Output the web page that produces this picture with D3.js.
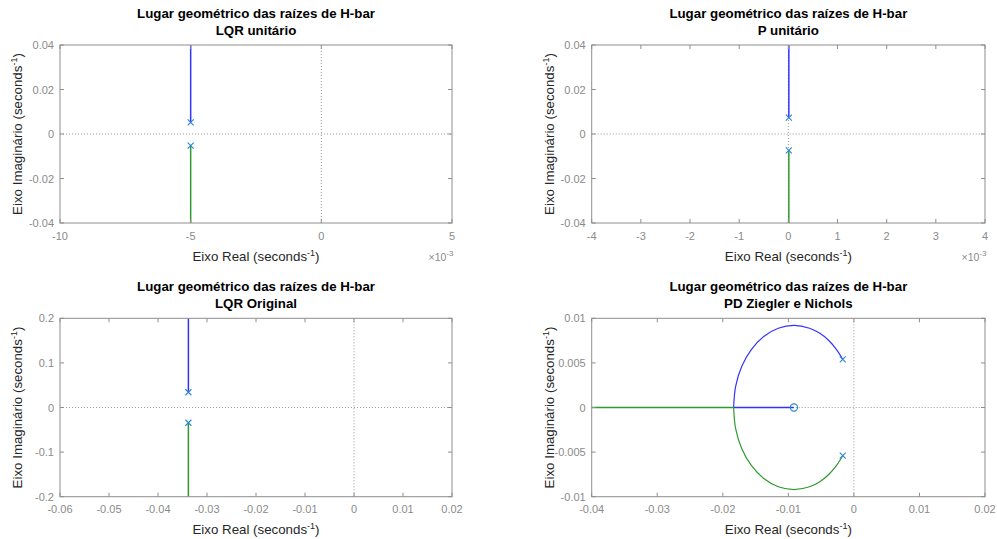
<!DOCTYPE html>
<html>
<head>
<meta charset="utf-8">
<script src="https://cdn.jsdelivr.net/npm/d3@7"></script>
<style>
  html, body { margin: 0; padding: 0; background: #fff; }
  svg { display: block; }
  text { font-family: "Liberation Sans", Arial, Helvetica, sans-serif; }
</style>
</head>
<body>
<svg id="chart" width="997" height="539"></svg>
<script>
// ---- Titles -------------------------------------------------------------
const mainTitle = "Lugar geométrico das raízes de H-bar";
const subTitles = ["LQR unitário", "P unitário", "LQR Original", "PD Ziegler e Nichols"];

// ---- Axis ranges and ticks ---------------------------------------------
const xDomains = [[-0.01, 0.005], [-0.004, 0.004], [-0.06, 0.02], [-0.04, 0.02]];
const yDomains = [[-0.04, 0.04], [-0.04, 0.04], [-0.2, 0.2], [-0.01, 0.01]];
const xTicks1 = [-0.01, -0.005, 0, 0.005];
const xTicks2 = [-0.004, -0.003, -0.002, -0.001, 0, 0.001, 0.002, 0.003, 0.004];
const xTicks3 = [-0.06, -0.05, -0.04, -0.03, -0.02, -0.01, 0, 0.01, 0.02];
const xTicks4 = [-0.04, -0.03, -0.02, -0.01, 0, 0.01, 0.02];
const yTicks1 = [-0.04, -0.02, 0, 0.02, 0.04];
const yTicks2 = [-0.04, -0.02, 0, 0.02, 0.04];
const yTicks3 = [-0.2, -0.1, 0, 0.1, 0.2];
const yTicks4 = [-0.01, -0.005, 0, 0.005, 0.01];
const xTickLabels1 = ["-10", "-5", "0", "5"];
const xTickLabels2 = ["-4", "-3", "-2", "-1", "0", "1", "2", "3", "4"];
const xTickLabels3 = ["-0.06", "-0.05", "-0.04", "-0.03", "-0.02", "-0.01", "0", "0.01", "0.02"];
const xTickLabels4 = ["-0.04", "-0.03", "-0.02", "-0.01", "0", "0.01", "0.02"];
const yTickLabels1 = ["-0.04", "-0.02", "0", "0.02", "0.04"];
const yTickLabels2 = ["-0.04", "-0.02", "0", "0.02", "0.04"];
const yTickLabels3 = ["-0.2", "-0.1", "0", "0.1", "0.2"];
const yTickLabels4 = ["-0.01", "-0.005", "0", "0.005", "0.01"];
const xExponent = ["-3", "-3", null, null];

// ---- Open-loop poles and zeros (real, imaginary) -----------------------
const poles1 = [[-0.005, 0.0052], [-0.005, -0.0052]];
const poles2 = [[0.00001, 0.0074], [0.00001, -0.0074]];
const poles3 = [[-0.0338, 0.0342], [-0.0338, -0.0342]];
const poles4 = [[-0.0017, 0.0054], [-0.0017, -0.0054]];
const zeros1 = [];
const zeros2 = [];
const zeros3 = [];
const zeros4 = [[-0.00915, 0]];

// ---- Locus branches (real, imaginary) -----------------------------------
const branchA1 = [[-0.005, 0.0052], [-0.005, 0.06]];
const branchB1 = [[-0.005, -0.0052], [-0.005, -0.06]];
const branchA2 = [[0.00001, 0.0074], [0.00001, 0.06]];
const branchB2 = [[0.00001, -0.0074], [0.00001, -0.06]];
const branchA3 = [[-0.0338, 0.0342], [-0.0338, 0.3]];
const branchB3 = [[-0.0338, -0.0342], [-0.0338, -0.3]];
// complex arcs, then the real-axis segment after the break-in point
const arcA4 = [
  [-0.00171, 0.00541], [-0.00265, 0.0065], [-0.00387, 0.00754], [-0.00526, 0.00834],
  [-0.00677, 0.00889], [-0.00915, 0.0092], [-0.01153, 0.00889], [-0.01375, 0.00797],
  [-0.01565, 0.0065], [-0.01712, 0.0046], [-0.01804, 0.00238], [-0.01835, 0]
];
const arcB4 = [
  [-0.00171, -0.00541], [-0.00265, -0.0065], [-0.00387, -0.00754], [-0.00526, -0.00834],
  [-0.00677, -0.00889], [-0.00915, -0.0092], [-0.01153, -0.00889], [-0.01375, -0.00797],
  [-0.01565, -0.0065], [-0.01712, -0.0046], [-0.01804, -0.00238], [-0.01835, 0]
];
const tailA4 = [[-0.01835, 0], [-0.00915, 0]];
const tailB4 = [[-0.01835, 0], [-0.05, 0]];

const panels = [
  { xTicks: xTicks1, yTicks: yTicks1, xLab: xTickLabels1, yLab: yTickLabels1, poles: poles1, zeros: zeros1, a: [branchA1], b: [branchB1] },
  { xTicks: xTicks2, yTicks: yTicks2, xLab: xTickLabels2, yLab: yTickLabels2, poles: poles2, zeros: zeros2, a: [branchA2], b: [branchB2] },
  { xTicks: xTicks3, yTicks: yTicks3, xLab: xTickLabels3, yLab: yTickLabels3, poles: poles3, zeros: zeros3, a: [branchA3], b: [branchB3] },
  { xTicks: xTicks4, yTicks: yTicks4, xLab: xTickLabels4, yLab: yTickLabels4, poles: poles4, zeros: zeros4, a: [arcA4, tailA4], b: [arcB4, tailB4] }
];

// ---- Layout -------------------------------------------------------------
const boxes = [
  { left: 60,    right: 452, top: 45,    bottom: 223 },
  { left: 591.7, right: 985, top: 45,    bottom: 223 },
  { left: 60,    right: 452, top: 318.3, bottom: 496.7 },
  { left: 591.7, right: 985, top: 318.3, bottom: 496.7 }
];

const colBox = "#8e8e8e";
const colTickText = "#8a8a8a";
const colLabel = "#262626";
const colBlue = "#3333ff";
const colGreen = "#2f9a2f";
const colMarker = "#2a86d6";

const svg = d3.select("#chart");

panels.forEach((p, i) => {
  const b = boxes[i];
  const x = d3.scaleLinear().domain(xDomains[i]).range([b.left, b.right]);
  const y = d3.scaleLinear().domain(yDomains[i]).range([b.bottom, b.top]);
  const g = svg.append("g");
  const w = b.right - b.left, h = b.bottom - b.top;

  const clipId = "clip" + i;
  svg.append("clipPath").attr("id", clipId)
    .append("rect").attr("x", b.left).attr("y", b.top).attr("width", w).attr("height", h);

  // dotted reference lines through the origin
  const ref = g.append("g").attr("clip-path", `url(#${clipId})`);
  ref.append("line")
    .attr("x1", b.left).attr("x2", b.right)
    .attr("y1", y(0)).attr("y2", y(0))
    .attr("stroke", "#9a9a9a").attr("stroke-width", 1).attr("stroke-dasharray", "1,2");
  ref.append("line")
    .attr("x1", x(0)).attr("x2", x(0))
    .attr("y1", b.top).attr("y2", b.bottom)
    .attr("stroke", "#9a9a9a").attr("stroke-width", 1).attr("stroke-dasharray", "1,2");

  // locus branches
  const line = d3.line().x(d => x(d[0])).y(d => y(d[1]));
  const smooth = d3.line().x(d => x(d[0])).y(d => y(d[1])).curve(d3.curveCatmullRom.alpha(0.5));
  const plot = g.append("g").attr("clip-path", `url(#${clipId})`);
  [[p.a, colBlue], [p.b, colGreen]].forEach(([segs, col]) => {
    segs.forEach(seg => {
      plot.append("path")
        .attr("d", seg.length > 2 ? smooth(seg) : line(seg))
        .attr("fill", "none").attr("stroke", col)
        .attr("stroke-width", seg.length > 2 ? 1.2 : 1.5);
    });
  });

  // pole markers (x) and zero markers (o)
  const s = 3;
  p.poles.forEach(d => {
    const cx = x(d[0]), cy = y(d[1]);
    plot.append("path")
      .attr("d", `M${cx - s},${cy - s}L${cx + s},${cy + s}M${cx - s},${cy + s}L${cx + s},${cy - s}`)
      .attr("stroke", colMarker).attr("stroke-width", 1.1).attr("fill", "none");
  });
  p.zeros.forEach(d => {
    plot.append("circle").attr("cx", x(d[0])).attr("cy", y(d[1])).attr("r", 3.6)
      .attr("fill", "none").attr("stroke", colMarker).attr("stroke-width", 1.1);
  });

  // box
  g.append("rect")
    .attr("x", b.left).attr("y", b.top).attr("width", w).attr("height", h)
    .attr("fill", "none").attr("stroke", colBox).attr("stroke-width", 1);

  // ticks inward on all four sides
  const tl = 4;
  p.xTicks.forEach(t => {
    const xv = x(t);
    g.append("line").attr("x1", xv).attr("x2", xv).attr("y1", b.bottom).attr("y2", b.bottom - tl).attr("stroke", colBox);
    g.append("line").attr("x1", xv).attr("x2", xv).attr("y1", b.top).attr("y2", b.top + tl).attr("stroke", colBox);
  });
  p.yTicks.forEach(t => {
    const yv = y(t);
    g.append("line").attr("x1", b.left).attr("x2", b.left + tl).attr("y1", yv).attr("y2", yv).attr("stroke", colBox);
    g.append("line").attr("x1", b.right).attr("x2", b.right - tl).attr("y1", yv).attr("y2", yv).attr("stroke", colBox);
  });

  // tick labels
  g.selectAll(".xl").data(p.xTicks).enter().append("text")
    .attr("x", d => x(d)).attr("y", b.bottom + 16.5)
    .attr("text-anchor", "middle").attr("font-size", 11).attr("fill", colTickText)
    .text((d, k) => p.xLab[k]);
  g.selectAll(".yl").data(p.yTicks).enter().append("text")
    .attr("x", b.left - 6).attr("y", d => y(d) + 4)
    .attr("text-anchor", "end").attr("font-size", 11).attr("fill", colTickText)
    .text((d, k) => p.yLab[k]);

  // exponent label
  if (xExponent[i]) {
    const ex = g.append("text").attr("x", b.right + 1.5).attr("y", b.bottom + 38)
      .attr("text-anchor", "end").attr("font-size", 10.5).attr("fill", colTickText);
    ex.append("tspan").text("\u00d710");
    ex.append("tspan").attr("dy", -5).attr("font-size", 8).text(xExponent[i]);
  }

  // axis labels
  const xl = g.append("text").attr("x", (b.left + b.right) / 2).attr("y", b.bottom + 37.5)
    .attr("text-anchor", "middle").attr("font-size", 13.3).attr("fill", colLabel);
  xl.append("tspan").text("Eixo Real (seconds");
  xl.append("tspan").attr("dy", -5).attr("font-size", 9).text("-1");
  xl.append("tspan").attr("dy", 5).text(")");

  const yl = g.append("text")
    .attr("transform", `translate(${b.left - 38},${(b.top + b.bottom) / 2}) rotate(-90)`)
    .attr("text-anchor", "middle").attr("font-size", 13.3).attr("fill", colLabel);
  yl.append("tspan").text("Eixo Imaginário (seconds");
  yl.append("tspan").attr("dy", -5).attr("font-size", 9).text("-1");
  yl.append("tspan").attr("dy", 5).text(")");

  // titles
  g.append("text").attr("x", (b.left + b.right) / 2).attr("y", b.top - 27)
    .attr("text-anchor", "middle").attr("font-size", 13.3).attr("font-weight", "bold").attr("fill", "#000")
    .text(mainTitle);
  g.append("text").attr("x", (b.left + b.right) / 2).attr("y", b.top - 10.5)
    .attr("text-anchor", "middle").attr("font-size", 13.3).attr("font-weight", "bold").attr("fill", "#000")
    .text(subTitles[i]);
});
</script>
</body>
</html>
